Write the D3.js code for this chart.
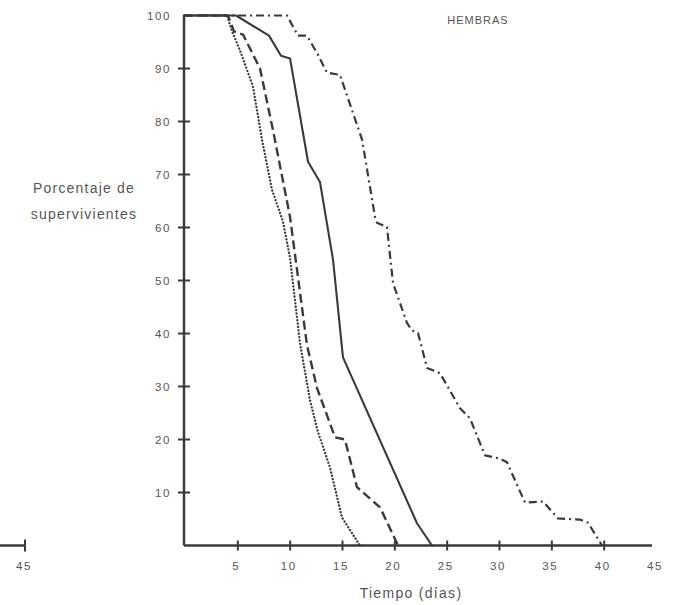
<!DOCTYPE html>
<html>
<head>
<meta charset="utf-8">
<script src="https://cdn.jsdelivr.net/npm/d3@7/dist/d3.min.js"></script>
<style>
  html, body { margin: 0; padding: 0; background: #fff; }
  svg { display: block; }
  text { font-family: "Liberation Sans", Arial, sans-serif; fill: #555; }
</style>
</head>
<body>
<svg id="chart" width="682" height="605"></svg>
<script>
// ---- data ----
const title = "HEMBRAS";
const yTitleLines = ["Porcentaje de", "supervivientes"];
const xTitle = "Tiempo (días)";
const xTicks = [5, 10, 15, 20, 25, 30, 35, 40, 45];
const yTicks = [10, 20, 30, 40, 50, 60, 70, 80, 90, 100];
const fragmentTicks = [45];

// series: [day, percent surviving]
const solidDays = [0, 4.97, 8.12, 9.27, 10.13, 11.85, 12.99, 14.24, 15.19, 22.26, 23.69];
const solidPct  = [100, 100, 96.2, 92.4, 91.9, 72.4, 68.6, 53.9, 35.5, 4.2, 0];

const dashedDays = [0, 4.20, 4.78, 5.64, 7.26, 8.50, 10.13, 11.75, 12.71, 14.43, 15.38, 16.53, 18.73, 20.45];
const dashedPct  = [100, 100, 97.0, 96.4, 90.0, 78.4, 62.0, 37.8, 29.7, 20.4, 20.0, 11.0, 7.2, 0];

const dottedDays = [0, 4.11, 4.59, 5.35, 6.59, 7.45, 8.41, 9.46, 10.13, 11.08, 12.04, 12.80, 13.95, 15.09, 16.81];
const dottedPct  = [100, 100, 97.0, 93.4, 86.6, 76.6, 67.1, 61.1, 54.3, 38.2, 27.4, 21.4, 14.7, 5.3, 0];

const dashDotDays = [0, 9.84, 10.89, 11.75, 12.80, 13.66, 14.90, 17.01, 18.25, 18.44, 19.39, 19.97, 21.30, 21.78, 22.36, 23.22, 24.46, 26.37, 27.32, 28.76, 30.19, 30.86, 32.58, 34.30, 35.73, 37.83, 38.60, 39.94];
const dashDotPct  = [100, 100, 96.2, 96.2, 92.6, 89.2, 88.8, 76.6, 62.0, 60.9, 60.1, 49.5, 42.0, 40.6, 40.1, 33.5, 32.5, 25.9, 24.0, 17.0, 16.4, 15.7, 8.1, 8.3, 5.1, 4.9, 4.3, 0];

// ---- layout ----
const svg = d3.select("#chart");
const ink = "#3a3a3a";
const x = d3.scaleLinear().domain([0, 45]).range([184, 655]);
const y = d3.scaleLinear().domain([0, 100]).range([545.5, 15.5]);

// axes lines
svg.append("line").attr("x1", x(0)).attr("x2", x(45) - 3).attr("y1", y(0)).attr("y2", y(0))
  .attr("stroke", ink).attr("stroke-width", 2.5);
svg.append("line").attr("x1", x(0)).attr("x2", x(0)).attr("y1", y(0)).attr("y2", y(100))
  .attr("stroke", ink).attr("stroke-width", 2.5);

// x ticks
const xt = svg.append("g");
xt.selectAll("line").data(xTicks.filter(d => d < 45)).join("line")
  .attr("x1", d => x(d) + 1.5).attr("x2", d => x(d) + 1.5)
  .attr("y1", y(0) - 5).attr("y2", y(0) + 5)
  .attr("stroke", ink).attr("stroke-width", 2);
xt.selectAll("text").data(xTicks).join("text")
  .attr("x", d => x(d)).attr("y", 570)
  .attr("text-anchor", "middle").attr("font-size", 11.5).attr("letter-spacing", 1.6)
  .text(d => d);

// y ticks
const yt = svg.append("g");
yt.selectAll("line").data(yTicks.filter(d => d < 100)).join("line")
  .attr("x1", x(0) - 6).attr("x2", x(0) + 6)
  .attr("y1", d => y(d)).attr("y2", d => y(d))
  .attr("stroke", ink).attr("stroke-width", 2);
yt.selectAll("text").data(yTicks).join("text")
  .attr("x", 171).attr("y", d => y(d) + 4)
  .attr("text-anchor", "end").attr("font-size", 11.5).attr("letter-spacing", 1.6)
  .text(d => d);

// left fragment of a neighbouring axis
const xf = d3.scaleLinear().domain([42.6, 45]).range([0, 25]);
svg.append("line").attr("x1", xf(42.6)).attr("x2", xf(45)).attr("y1", y(0)).attr("y2", y(0))
  .attr("stroke", ink).attr("stroke-width", 2.5);
svg.selectAll(".frag").data(fragmentTicks).join("line").attr("class", "frag")
  .attr("x1", d => xf(d)).attr("x2", d => xf(d)).attr("y1", y(0) - 6).attr("y2", y(0) + 6)
  .attr("stroke", ink).attr("stroke-width", 2);
svg.selectAll(".fragt").data(fragmentTicks).join("text").attr("class", "fragt")
  .attr("x", d => xf(d) - 1).attr("y", 570).attr("text-anchor", "middle")
  .attr("font-size", 11.5).attr("letter-spacing", 1.6).text(d => d);

// titles
svg.append("text").attr("x", 478).attr("y", 24).attr("text-anchor", "middle")
  .attr("font-size", 11).attr("letter-spacing", 1).text(title);
svg.append("text").attr("x", 411).attr("y", 598).attr("text-anchor", "middle")
  .attr("font-size", 14).attr("letter-spacing", 1.3).text(xTitle);
svg.selectAll(".yt").data(yTitleLines).join("text").attr("class", "yt")
  .attr("x", 84).attr("y", (d, i) => 193 + i * 26).attr("text-anchor", "middle")
  .attr("font-size", 14).attr("letter-spacing", 1.2).text(d => d);

// series
const line = d3.line().x(d => x(d[0])).y(d => y(d[1]));
const series = [
  { days: dottedDays, pct: dottedPct, dash: "0.1,3.3", width: 2.3, cap: "round" },
  { days: dashedDays, pct: dashedPct, dash: "9,4.5", width: 2.4, cap: "butt" },
  { days: dashDotDays, pct: dashDotPct, dash: "8,4,2,4", width: 2.2, cap: "butt" },
  { days: solidDays, pct: solidPct, dash: null, width: 2.1, cap: "butt" }
];
svg.append("g").selectAll("path").data(series).join("path")
  .attr("d", s => line(s.days.map((d, i) => [d, s.pct[i]])))
  .attr("fill", "none").attr("stroke", ink)
  .attr("stroke-width", s => s.width)
  .attr("stroke-linecap", s => s.cap)
  .attr("stroke-linejoin", "round")
  .attr("stroke-dasharray", s => s.dash);
</script>
</body>
</html>
